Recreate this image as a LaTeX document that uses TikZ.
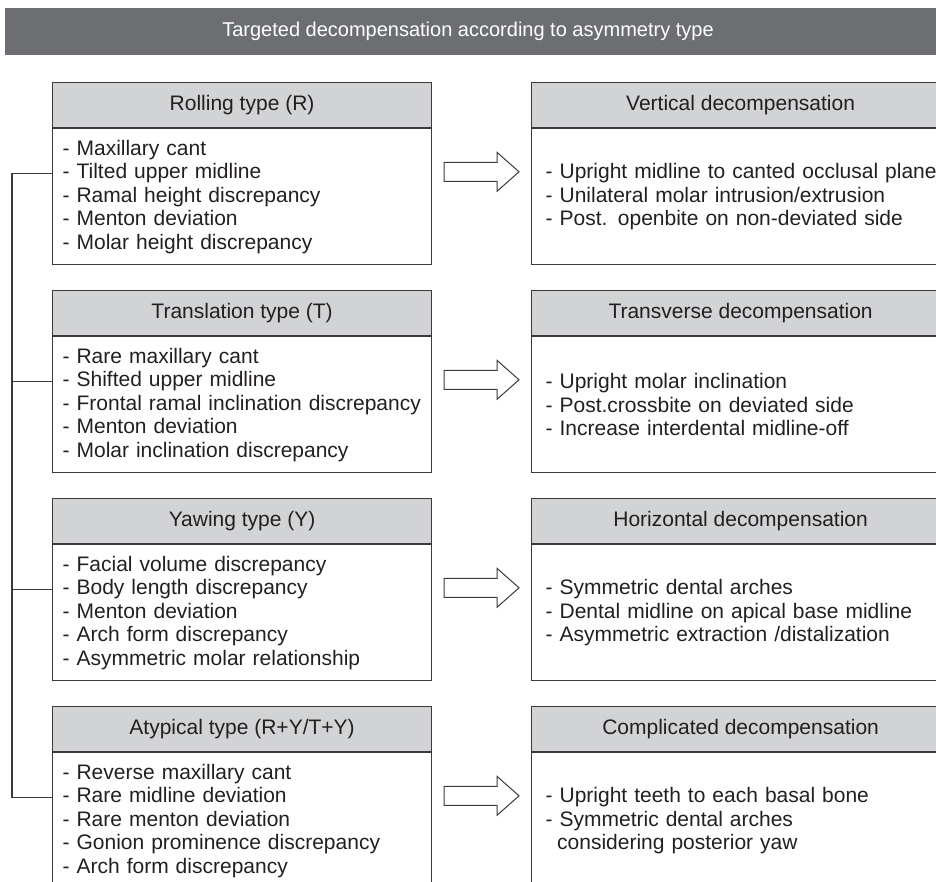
\documentclass[tikz,border=0pt]{standalone}
\usepackage{fontspec}
\setmainfont{Liberation Sans}
\usetikzlibrary{positioning}

\definecolor{bandgray}{HTML}{6D6E71}
\definecolor{headgray}{HTML}{D1D3D4}
\definecolor{linegray}{HTML}{3A3A3C}
\definecolor{textgray}{HTML}{231F20}
\newcommand{\boxfont}{\fontsize{21}{23.5}\selectfont}

\begin{document}
\begin{tikzpicture}[x=1pt, y=-1pt,
		typehead/.style={draw=linegray, fill=headgray, line width=1.2pt, text=textgray, font=\boxfont, minimum width=379pt, minimum height=45pt, inner sep=0pt, anchor=north west},
		typebody/.style={draw=linegray, line width=1.2pt, text=textgray, font=\boxfont, minimum width=379pt, minimum height=136pt, text width=359pt, align=left, inner xsep=10pt, inner ysep=0pt},
		resulthead/.style={typehead, minimum width=430pt},
		resultbody/.style={typebody, minimum width=430pt, text width=402pt, inner xsep=14pt},
		linkline/.style={draw=linegray, line width=1.2pt},
		bigarrow/.style={draw=linegray, line width=1pt, line join=miter}]

				\useasboundingbox (0,0) rectangle (936,882);
				\clip (0,0) rectangle (936,882);

				% title bar
				\node[fill=bandgray, minimum width=945pt, minimum height=47pt, inner sep=0pt, anchor=north west] (titlebar) at (5,8) {};
				\node[text=white, font=\fontsize{20}{24}\selectfont] (titletext) at (468,31.5) {Targeted decompensation according to asymmetry type};

				% asymmetry types
				\node[typehead] (rollinghead) at (52,82) {Rolling type (R)};
				\node[typebody, below=0pt of rollinghead] (rollingbody) {- Maxillary cant\\- Tilted upper midline\\- Ramal height discrepancy\\- Menton deviation\\- Molar height discrepancy};

				\node[typehead] (translationhead) at (52,290) {Translation type (T)};
				\node[typebody, below=0pt of translationhead] (translationbody) {- Rare maxillary cant\\- Shifted upper midline\\- Frontal ramal inclination discrepancy\\- Menton deviation\\- Molar inclination discrepancy};

				\node[typehead] (yawinghead) at (52,498) {Yawing type (Y)};
				\node[typebody, below=0pt of yawinghead] (yawingbody) {- Facial volume discrepancy\\- Body length discrepancy\\- Menton deviation\\- Arch form discrepancy\\- Asymmetric molar relationship};

				\node[typehead] (atypicalhead) at (52,706) {Atypical type (R+Y/T+Y)};
				\node[typebody, below=0pt of atypicalhead] (atypicalbody) {- Reverse maxillary cant\\- Rare midline deviation\\- Rare menton deviation\\- Gonion prominence discrepancy\\- Arch form discrepancy};

				% decompensations
				\node[resulthead, minimum width=418pt] (verticalhead) at (531,82) {Vertical decompensation};
				\node[resultbody, below=0pt of verticalhead.south west, anchor=north west] (verticalbody) {- Upright midline to canted occlusal plane\\- Unilateral molar intrusion/extrusion\\- Post. openbite on non-deviated side};

				\node[resulthead, minimum width=418pt] (transversehead) at (531,290) {Transverse decompensation};
				\node[resultbody, below=0pt of transversehead.south west, anchor=north west] (transversebody) {- Upright molar inclination\\- Post.crossbite on deviated side\\- Increase interdental midline-off};

				\node[resulthead, minimum width=418pt] (horizontalhead) at (531,498) {Horizontal decompensation};
				\node[resultbody, below=0pt of horizontalhead.south west, anchor=north west] (horizontalbody) {- Symmetric dental arches\\- Dental midline on apical base midline\\- Asymmetric extraction /distalization};

				\node[resulthead, minimum width=418pt] (complicatedhead) at (531,706) {Complicated decompensation};
				\node[resultbody, below=0pt of complicatedhead.south west, anchor=north west] (complicatedbody) {- Upright teeth to each basal bone\\- Symmetric dental arches\\\hspace*{0.55em}considering posterior yaw};

				% arrows
				\coordinate (verticaltip) at ([xshift=-12pt, yshift=25pt]verticalbody.west);
				\coordinate (transversetip) at ([xshift=-12pt, yshift=25pt]transversebody.west);
				\coordinate (horizontaltip) at ([xshift=-12pt, yshift=25pt]horizontalbody.west);
				\coordinate (complicatedtip) at ([xshift=-12pt, yshift=25pt]complicatedbody.west);

				\draw[bigarrow] (verticaltip) -- ++(-22,-19.5) -- ++(0,10) -- ++(-53,0) -- ++(0,19) -- ++(53,0) -- ++(0,10) -- cycle;
				\draw[bigarrow] (transversetip) -- ++(-22,-19.5) -- ++(0,10) -- ++(-53,0) -- ++(0,19) -- ++(53,0) -- ++(0,10) -- cycle;
				\draw[bigarrow] (horizontaltip) -- ++(-22,-19.5) -- ++(0,10) -- ++(-53,0) -- ++(0,19) -- ++(53,0) -- ++(0,10) -- cycle;
				\draw[bigarrow] (complicatedtip) -- ++(-22,-19.5) -- ++(0,10) -- ++(-53,0) -- ++(0,19) -- ++(53,0) -- ++(0,10) -- cycle;

				% link on the left
				\coordinate (rollinglink) at ([yshift=23.5pt]rollingbody.west);
				\coordinate (translationlink) at ([yshift=23.5pt]translationbody.west);
				\coordinate (yawinglink) at ([yshift=23.5pt]yawingbody.west);
				\coordinate (atypicallink) at ([yshift=23.5pt]atypicalbody.west);

				\draw[linkline] (rollinglink) -- ++(-40,0) coordinate (linkcorner) |- (atypicallink);
				\draw[linkline] (translationlink) -- (translationlink -| linkcorner);
				\draw[linkline] (yawinglink) -- (yawinglink -| linkcorner);

\end{tikzpicture}
\end{document}
